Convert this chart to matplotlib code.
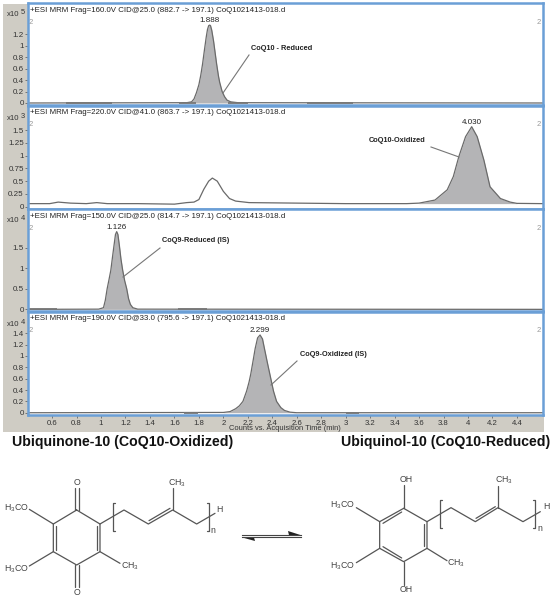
"""
MRM chromatograms for CoQ10 / CoQ9 (reduced and oxidized) with the
ubiquinone <-> ubiquinol structures drawn underneath.
Layout is worked out in image pixels (554x600), y pointing down.
"""

import matplotlib
matplotlib.use("Agg")
import matplotlib.pyplot as plt

plt.rcParams["font.family"] = ["Liberation Sans", "DejaVu Sans"]
plt.rcParams["mathtext.default"] = "regular"

W, H = 554, 600
BG = "#cfccc4"
FRAME = "#6b9fd6"
FILL = "#b4b4b6"
EDGE = "#6a6a6a"
TXT = "#333333"

# ── chromatogram data ─────────────────────────────────────────────────────────

p1_rt = [0.40, 1.70, 1.74, 1.76, 1.78, 1.80, 1.815, 1.83, 1.845, 1.86, 1.87, 1.88,
         1.888, 1.895, 1.905, 1.92, 1.93, 1.945, 1.96, 1.97, 1.99, 2.01, 2.03,
         2.06, 2.12, 4.61]
p1_y = [0.0, 0.005, 0.02, 0.07, 0.18, 0.32, 0.48, 0.68, 0.92, 1.15, 1.28, 1.35,
        1.36, 1.35, 1.27, 1.08, 0.92, 0.68, 0.47, 0.36, 0.2, 0.11, 0.05,
        0.02, 0.005, 0.0]
p1_noise = [(0.71, 1.09), (1.64, 1.78), (2.04, 2.20), (2.68, 3.06)]

p2_rt = [0.40, 0.58, 0.65, 0.75, 0.88, 0.965, 1.05, 1.30, 1.60, 1.70, 1.76, 1.80,
         1.84, 1.88, 1.91, 1.95, 2.00, 2.05, 2.10, 2.21, 2.60, 3.00, 3.50, 3.60,
         3.73, 3.83, 3.88, 3.925, 3.98, 4.03, 4.075, 4.13, 4.18, 4.265, 4.345,
         4.40, 4.61]
p2_y = [0.06, 0.06, 0.09, 0.07, 0.06, 0.08, 0.06, 0.06, 0.05, 0.08, 0.09, 0.14,
        0.34, 0.50, 0.56, 0.50, 0.30, 0.16, 0.11, 0.08, 0.07, 0.06, 0.06, 0.07,
        0.13, 0.33, 0.59, 0.98, 1.37, 1.565, 1.37, 0.91, 0.39, 0.16, 0.09,
        0.065, 0.06]

p3_rt = [0.40, 0.98, 1.02, 1.035, 1.05, 1.065, 1.08, 1.095, 1.106, 1.118, 1.128,
         1.138, 1.15, 1.163, 1.177, 1.193, 1.21, 1.225, 1.24, 1.26, 1.30, 4.61]
p3_y = [0.0, 0.005, 0.04, 0.22, 0.5, 0.72, 0.95, 1.3, 1.55, 1.82, 1.89,
        1.82, 1.55, 1.22, 0.95, 0.7, 0.5, 0.26, 0.12, 0.04, 0.005, 0.0]
p3_noise = [(0.41, 0.64), (1.63, 1.87)]

p4_rt = [0.40, 2.00, 2.055, 2.10, 2.13, 2.16, 2.19, 2.21, 2.224, 2.245, 2.26, 2.28,
         2.30, 2.32, 2.335, 2.36, 2.38, 2.41, 2.435, 2.47, 2.50, 2.545, 2.60, 4.61]
p4_y = [0.0, 0.005, 0.02, 0.07, 0.12, 0.2, 0.38, 0.54, 0.68, 0.94, 1.13, 1.32,
        1.37, 1.3, 1.14, 0.88, 0.68, 0.38, 0.2, 0.09, 0.04, 0.01, 0.0, 0.0]
p4_noise = [(1.68, 1.79), (3.00, 3.11)]

p1_ticks = [0, 0.2, 0.4, 0.6, 0.8, 1, 1.2]
p2_ticks = [0, 0.25, 0.5, 0.75, 1, 1.25, 1.5]
p3_ticks = [0, 0.5, 1, 1.5]
p4_ticks = [0, 0.2, 0.4, 0.6, 0.8, 1, 1.2, 1.4]
x_ticks = [0.6, 0.8, 1, 1.2, 1.4, 1.6, 1.8, 2, 2.2, 2.4, 2.6, 2.8, 3, 3.2, 3.4,
           3.6, 3.8, 4, 4.2, 4.4]

headers = [
    "+ESI MRM Frag=160.0V CID@25.0 (882.7 -> 197.1) CoQ1021413-018.d",
    "+ESI MRM Frag=220.0V CID@41.0 (863.7 -> 197.1) CoQ1021413-018.d",
    "+ESI MRM Frag=150.0V CID@25.0 (814.7 -> 197.1) CoQ1021413-018.d",
    "+ESI MRM Frag=190.0V CID@33.0 (795.6 -> 197.1) CoQ1021413-018.d",
]

# pixel box (top, bottom), y-limits, exponent
panels = [
    dict(rt=p1_rt, y=p1_y, ticks=p1_ticks, noise=p1_noise, box=(3, 105),
         ylim=(-0.035, 1.745), exp="5", peak=1.888, base=0.0),
    dict(rt=p2_rt, y=p2_y, ticks=p2_ticks, noise=[], box=(106, 209),
         ylim=(-0.045, 1.97), exp="3", peak=4.030, base=0.06),
    dict(rt=p3_rt, y=p3_y, ticks=p3_ticks, noise=p3_noise, box=(209, 311),
         ylim=(-0.04, 2.44), exp="4", peak=1.126, base=0.0),
    dict(rt=p4_rt, y=p4_y, ticks=p4_ticks, noise=p4_noise, box=(312, 415),
         ylim=(-0.04, 1.775), exp="4", peak=2.299, base=0.0),
]

# compound label, text x/y (px), leader line (px)
callouts = [
    ("CoQ10 - Reduced", 251, 48, (249, 55), (223, 93)),
    ("CoQ10-Oxidized", 369, 141, (431, 147), (459, 157)),
    ("CoQ9-Reduced (IS)", 162, 241, (160, 248), (123, 277)),
    ("CoQ9-Oxidized (IS)", 300, 354, (297, 361), (271, 385)),
]

X0, X1 = 28, 543
XLIM = (0.403, 4.613)


def fmt(v):
    return f"{v:g}"


fig = plt.figure(figsize=(W / 100, H / 100), dpi=100, facecolor="white")

# pixel-space canvases: one behind the panels, one on top
back = fig.add_axes([0, 0, 1, 1], zorder=0)
over = fig.add_axes([0, 0, 1, 1], zorder=5)
for a in (back, over):
    a.set_xlim(0, W)
    a.set_ylim(H, 0)
    a.axis("off")
back.add_patch(plt.Rectangle((3, 4), 541, 428, color=BG, lw=0))

# ── chromatogram panels ───────────────────────────────────────────────────────

for i, p in enumerate(panels):
    top, bot = p["box"]
    ax = fig.add_axes([X0 / W, 1 - bot / H, (X1 - X0) / W, (bot - top) / H], zorder=2)
    ax.set_xlim(*XLIM)
    ax.set_ylim(*p["ylim"])
    ax.fill_between(p["rt"], p["base"], p["y"], color=FILL, lw=0,
                    where=[(abs(r - p["peak"]) < 0.45) for r in p["rt"]])
    ax.plot(p["rt"], p["y"], color=EDGE, lw=0.9)
    for a, b in p["noise"]:
        ax.plot([a, b], [0.0, 0.0], color="#777777", lw=1.3, solid_capstyle="butt")

    for s in ax.spines.values():
        s.set_color(FRAME)
        s.set_linewidth(1.8)

    ax.set_yticks(p["ticks"])
    ax.set_yticklabels([fmt(t) for t in p["ticks"]], fontsize=5.8, color=TXT)
    ax.tick_params(axis="y", length=2, width=0.6, pad=1, color="#666666")
    if i == 3:
        ax.set_xticks(x_ticks)
        ax.set_xticklabels([fmt(t) for t in x_ticks], fontsize=5.6, color=TXT)
        ax.tick_params(axis="x", length=2, width=0.6, pad=1.5, color="#666666")
    else:
        ax.set_xticks([])

    over.text(30, top + 7, headers[i], fontsize=5.65, color="#222222", va="center", ha="left")
    over.text(31, top + 19, "2", fontsize=5.5, color="#999999", va="center", ha="center")
    over.text(539, top + 19, "2", fontsize=5.5, color="#999999", va="center", ha="center")
    over.text(7, top + 12, "x10", fontsize=5.6, color=TXT, va="center", ha="left")
    over.text(21, top + 10, p["exp"], fontsize=5.4, color=TXT, va="center", ha="left")

    ax.annotate(f"{p['peak']:.3f}", (p["peak"], max(p["y"])), xytext=(0, 0.5),
                textcoords="offset points", fontsize=5.8, color="#222222",
                ha="center", va="bottom", annotation_clip=False)

for label, tx, ty, a, b in callouts:
    over.text(tx, ty, label, fontsize=5.35, fontweight="bold", color="#222222",
              va="center", ha="left")
    over.plot([a[0], b[0]], [a[1], b[1]], color="#777777", lw=0.8)

over.text(285, 428.5, "Counts vs. Acquisition Time (min)", fontsize=5.4, color=TXT,
          ha="center", va="center")

over.text(12, 442, "Ubiquinone-10 (CoQ10-Oxidized)", fontsize=10.2, fontweight="bold",
          color="#111111", ha="left", va="center")
over.text(341, 442, "Ubiquinol-10 (CoQ10-Reduced)", fontsize=10.2, fontweight="bold",
          color="#111111", ha="left", va="center")

# ── structures (coordinates are 3x crop pixels, origin at ox, 460) ────────────


def draw_bonds(bonds, ox):
    for b in bonds:
        xs = [ox + v / 3 for v in b[0::2]]
        ys = [460 + v / 3 for v in b[1::2]]
        over.plot(xs, ys, color="#555555", lw=0.9, solid_capstyle="round")


def draw_labels(labels, ox):
    for s, x, y in labels:
        over.text(ox + x / 3, 460 + y / 3, s, fontsize=6.3, color="#444444",
                  ha="center", va="center")


quinone = [
    (230, 150, 300, 192, 300, 275, 230, 315, 160, 275, 160, 192, 230, 150),
    (224, 150, 224, 85), (236, 150, 236, 85),
    (224, 315, 224, 380), (236, 315, 236, 380),
    (168, 197, 168, 270), (292, 197, 292, 270),
    (160, 192, 88, 148), (160, 275, 88, 318), (300, 275, 360, 310),
    (300, 192, 372, 150, 445, 192, 518, 150, 590, 192, 645, 160),
    (447, 182, 510, 145), (518, 150, 518, 85),
    (345, 130, 338, 130, 338, 213, 345, 213),
    (620, 130, 627, 130, 627, 213, 620, 213),
]
quinone_text = [
    ("O", 230, 68), ("O", 230, 398), ("H$_3$CO", 50, 145), ("H$_3$CO", 50, 328),
    ("CH$_3$", 389, 318), ("CH$_3$", 531, 70), ("H", 657, 150), ("n", 638, 212),
]
quinol = [
    (380, 145, 450, 185, 450, 265, 380, 305, 308, 265, 308, 185, 380, 145),
    (318, 190, 374, 156), (442, 192, 442, 258), (318, 260, 374, 294),
    (380, 145, 380, 75), (380, 305, 380, 375),
    (308, 185, 238, 143), (308, 265, 238, 308), (450, 265, 510, 302),
    (450, 185, 522, 143, 595, 185, 663, 143, 738, 185, 790, 155),
    (597, 175, 655, 140), (663, 143, 663, 78),
    (495, 120, 488, 120, 488, 205, 495, 205),
    (768, 120, 775, 120, 775, 205, 768, 205),
]
quinol_text = [
    ("OH", 387, 58), ("OH", 387, 390), ("H$_3$CO", 196, 137), ("H$_3$CO", 197, 318),
    ("CH$_3$", 536, 310), ("CH$_3$", 680, 60), ("H", 807, 140), ("n", 790, 205),
]

draw_bonds(quinone, 0)
draw_labels(quinone_text, 0)
draw_bonds(quinol, 277)
draw_labels(quinol_text, 277)

# equilibrium arrow
over.plot([242, 301], [535.2, 535.2], color="#444444", lw=0.8)
over.plot([242, 301], [537.4, 537.4], color="#444444", lw=0.8)
over.fill([301, 288, 289], [535.2, 531, 535.2], color="#222222", lw=0)
over.fill([242, 255, 254], [537.4, 541, 537.4], color="#222222", lw=0)

fig.savefig("out.png", dpi=100)
